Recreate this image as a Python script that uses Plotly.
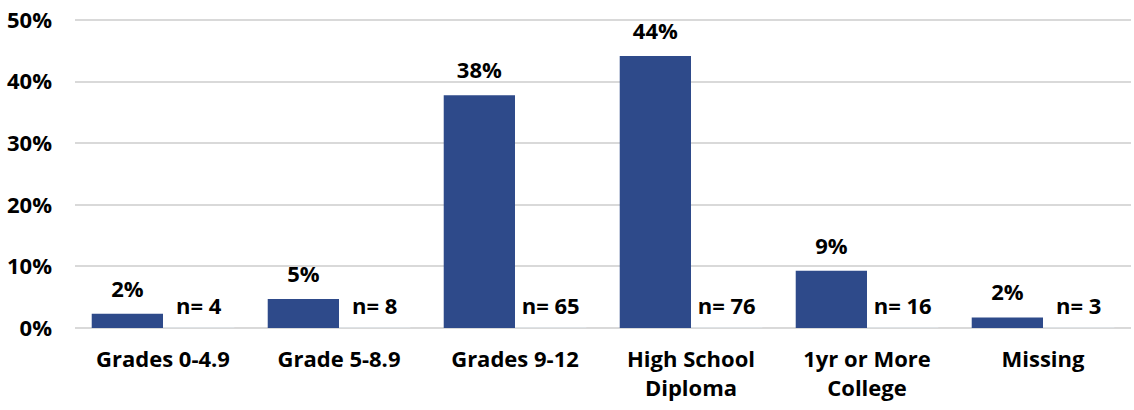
import plotly.graph_objects as go

categories = ["Grades 0-4.9", "Grade 5-8.9", "Grades 9-12", "High School<br>Diploma", "1yr or More<br>College", "Missing"]
percent_values = [0.023, 0.047, 0.378, 0.442, 0.093, 0.017]
n_counts = [4, 8, 65, 76, 16, 3]
n_labels = ["n= %d" % n for n in n_counts]
y_ticks = [0, 0.1, 0.2, 0.3, 0.4, 0.5]

BAR = "#2E4A8A"
FONT = dict(family="'Open Sans', sans-serif", size=22, color="#000000", weight="bold")
GAP = 0.19

fig = go.Figure()
fig.add_trace(go.Bar(
    x=categories, y=percent_values, marker=dict(color=BAR, line=dict(width=0)),
    name="pct", hoverinfo="skip",
))
fig.add_trace(go.Bar(
    x=categories, y=[0] * len(categories), marker=dict(color="rgba(0,0,0,0)"),
    name="n", hoverinfo="skip",
))
fig.add_trace(go.Scatter(
    x=categories, y=percent_values, mode="markers+text",
    marker=dict(size=17, color="rgba(0,0,0,0)"),
    texttemplate="%{y:.0%}", textposition="top center", textfont=FONT,
    cliponaxis=False, hoverinfo="skip",
))
fig.add_trace(go.Scatter(
    x=categories, y=[0] * len(categories), mode="markers+text",
    marker=dict(size=12, color="rgba(0,0,0,0)"),
    text=n_labels, textposition="top center", textfont=FONT,
    cliponaxis=False, hoverinfo="skip",
))

fig.update_layout(
    width=1134, height=410,
    margin=dict(l=75, r=3, t=19, b=82),
    paper_bgcolor="white", plot_bgcolor="white",
    barmode="group", bargap=GAP, bargroupgap=0,
    scattermode="group", scattergap=GAP,
    showlegend=False,
    font=FONT,
)
fig.update_xaxes(
    showgrid=False, showline=False, zeroline=False, ticks="",
    tickfont=FONT, ticklabelstandoff=16, automargin=False,
    ticklabeloverflow="allow",
)
fig.update_yaxes(
    range=[0, 0.502], tickvals=y_ticks, tickformat=".0%",
    showgrid=True, gridcolor="#D9D9D9", gridwidth=1.5,
    zeroline=True, zerolinecolor="#D9D9D9", zerolinewidth=1.5,
    showline=False, ticks="", tickfont=FONT, ticklabelstandoff=22,
    automargin=False, ticklabeloverflow="allow",
)

fig.write_html(
    "out.html",
    config={"displayModeBar": False},
    post_script="document.body.style.margin='0';",
)
